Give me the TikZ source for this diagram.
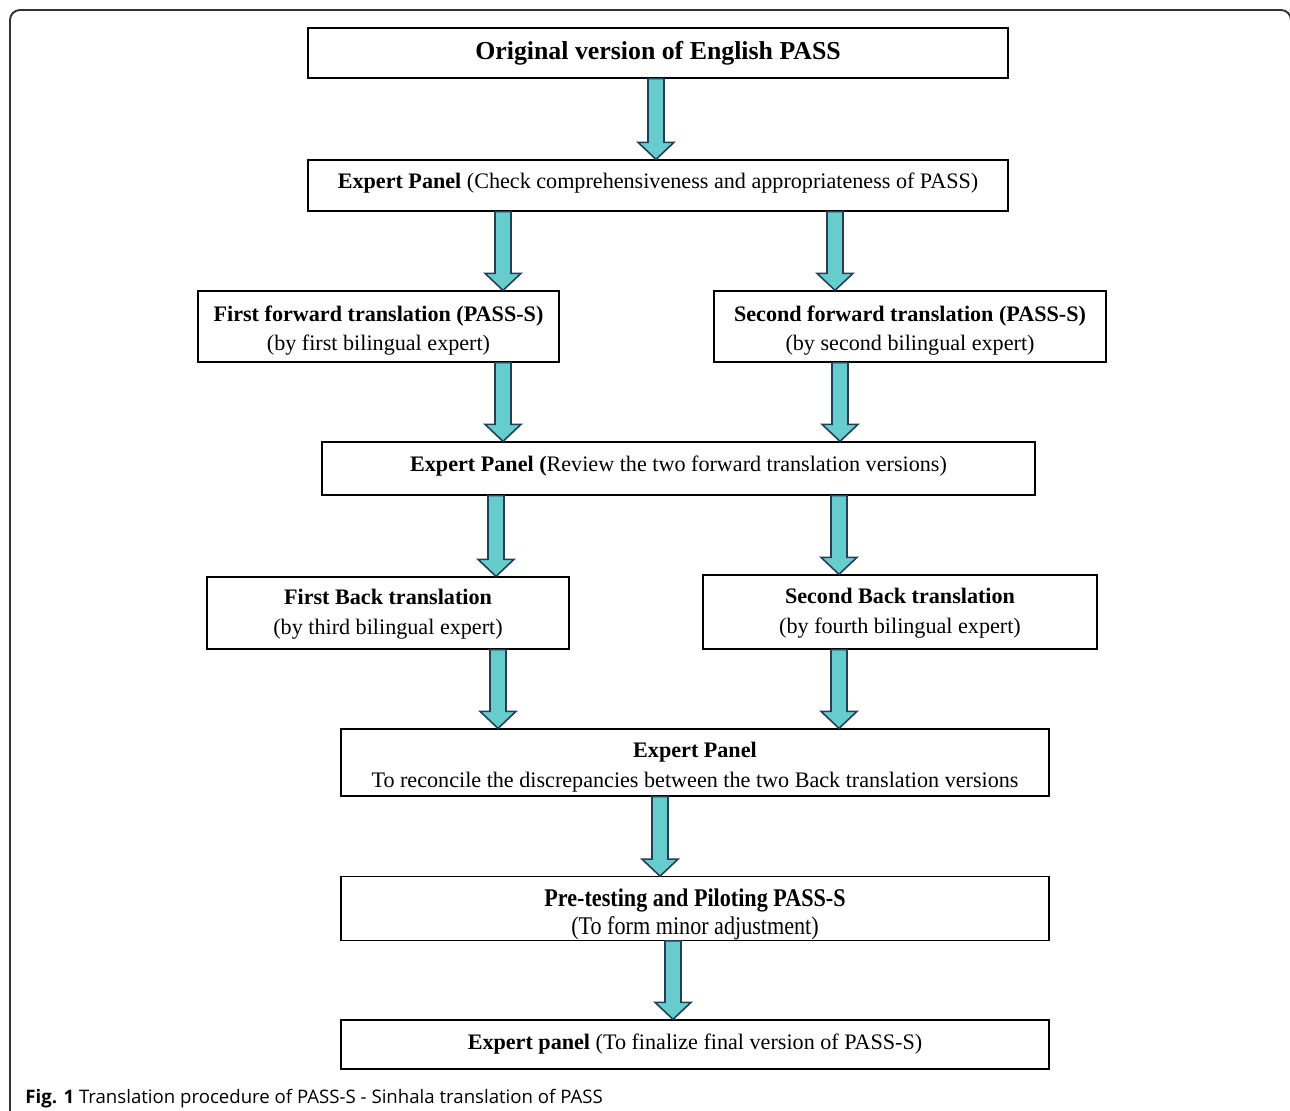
\documentclass[tikz,border=0pt]{standalone}
\usepackage{fontspec}
\setmainfont{Liberation Serif}
\setsansfont{Open Sans}
\usetikzlibrary{calc}

\definecolor{arrowfill}{RGB}{102,204,204}
\definecolor{arrowline}{RGB}{36,62,90}
\definecolor{framegray}{RGB}{50,50,50}

% fat arrow going down from node #2 to node #3, at x = #1
\newcommand{\flowarrow}[3]{%
  \filldraw[flowarr] let \p1=(#1,0), \p2=(#2.south), \p3=(#3.north) in
    (\x1-0.16cm,\y2) -- (\x1+0.16cm,\y2) -- (\x1+0.16cm,\y3+0.34cm) -- (\x1+0.36cm,\y3+0.34cm)
    -- (\x1,\y3) -- (\x1-0.36cm,\y3+0.34cm) -- (\x1-0.16cm,\y3+0.34cm) -- cycle;}
% struts to move the text a little inside its box
\newcommand{\topstrut}[1][13.5pt]{\rule{0pt}{#1}}
\newcommand{\lowstrut}{\rule[-6pt]{0pt}{0pt}}

\begin{document}
\begin{tikzpicture}[x=0.02cm, y=-0.02cm,
    box/.style={draw, line width=0.75pt, inner sep=0pt, align=center, font=\fontsize{12.6}{17}\selectfont},
    flowarr/.style={fill=arrowfill, draw=arrowline, line width=0.9pt, line join=miter}]
    \useasboundingbox (0,0) rectangle (1290,1111);
    \clip (0,0) rectangle (1290,1111);
    \draw[framegray, line width=1.1pt, rounded corners=0.2cm] (10,1140) -- (10,10) -- (1291,10) -- (1291,1140);

    \node[box, minimum width=14cm, minimum height=1cm, font=\fontsize{14.7}{17}\selectfont\bfseries] (orig) at (658,53) {Original version of English PASS};
    \node[box, minimum width=14cm, minimum height=1.02cm] (panelA) at (658,185.5) {\textbf{Expert Panel} (Check comprehensiveness and appropriateness of PASS)\lowstrut};
    \node[box, minimum width=7.22cm, minimum height=1.42cm] (fwdA) at (378.5,326.5) {\topstrut\textbf{First forward translation (PASS-S)}\\(by first bilingual expert)};
    \node[box, minimum width=7.84cm, minimum height=1.42cm] (fwdB) at (910,326.5) {\topstrut\textbf{Second forward translation (PASS-S)}\\(by second bilingual expert)};
    \node[box, minimum width=14.26cm, minimum height=1.06cm] (panelB) at (678.5,468.5) {\textbf{Expert Panel (}Review the two forward translation versions)\lowstrut};
    \node[box, minimum width=7.24cm, minimum height=1.44cm] (backA) at (388,613) {\topstrut[10.5pt]\textbf{First Back translation}\\(by third bilingual expert)};
    \node[box, minimum width=7.88cm, minimum height=1.48cm] (backB) at (900,612) {\topstrut[10.5pt]\textbf{Second Back translation}\\(by fourth bilingual expert)};
    \node[box, minimum width=14.16cm, minimum height=1.34cm] (panelC) at (695,762.5) {\topstrut[14pt]\textbf{Expert Panel}\\To reconcile the discrepancies between the two Back translation versions};
    \node[box, minimum width=14.16cm, minimum height=1.26cm] (pilot) at (695,908.5) {\topstrut[17pt]\scalebox{1}[1.15]{\textbf{Pre-testing and Piloting PASS-S}}\\[-1pt]\scalebox{1}[1.15]{(To form minor adjustment)}};
    \node[box, minimum width=14.16cm, minimum height=0.98cm] (final) at (695,1044.5) {\textbf{Expert panel} (To finalize final version of PASS-S)};

    \flowarrow{656}{orig}{panelA}
    \flowarrow{503}{panelA}{fwdA}
    \flowarrow{835}{panelA}{fwdB}
    \flowarrow{503}{fwdA}{panelB}
    \flowarrow{840}{fwdB}{panelB}
    \flowarrow{496}{panelB}{backA}
    \flowarrow{839}{panelB}{backB}
    \flowarrow{498}{backA}{panelC}
    \flowarrow{839}{backB}{panelC}
    \flowarrow{660}{panelC}{pilot}
    \flowarrow{673}{pilot}{final}

    \node[anchor=base west, inner sep=0pt, font=\sffamily\fontsize{10.6}{12}\selectfont] (caption) at (25,1103) {\textbf{Fig. 1} Translation procedure of PASS-S - Sinhala translation of PASS};
\end{tikzpicture}
\end{document}
